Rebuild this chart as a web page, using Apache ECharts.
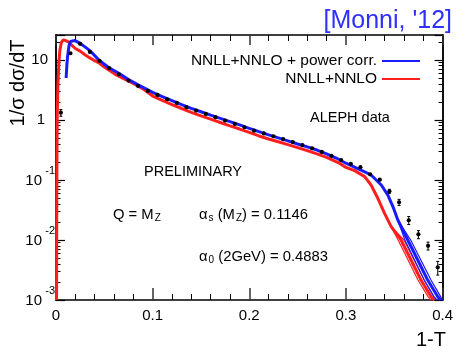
<!DOCTYPE html>
<html><head><meta charset="utf-8">
<script src="https://cdn.jsdelivr.net/npm/echarts@6/dist/echarts.min.js"></script>
<style>html,body{margin:0;padding:0;background:#fff}#c{width:456px;height:348px}</style>
</head><body><div id="c"></div>
<script>
// ---- data ----
const xTickLabels = ['0', '0.1', '0.2', '0.3', '0.4'];
const yTickExp = [-3, -2, -1, 0, 1];

const dataX = [0.005, 0.015, 0.025, 0.035, 0.045, 0.055, 0.065, 0.075, 0.085, 0.095,
  0.105, 0.115, 0.125, 0.135, 0.145, 0.155, 0.165, 0.175, 0.185, 0.195,
  0.205, 0.215, 0.225, 0.235, 0.245, 0.255, 0.265, 0.275, 0.285, 0.295,
  0.305, 0.315, 0.325, 0.335, 0.345, 0.355, 0.365, 0.375, 0.385, 0.395];
const dataY = [1.32, 12.9, 18.5, 13.6, 9.6, 7.3, 5.76, 4.53, 3.69, 3.04,
  2.61, 2.21, 1.92, 1.63, 1.43, 1.26, 1.11, 0.975, 0.858, 0.755,
  0.663, 0.595, 0.535, 0.478, 0.428, 0.38, 0.337, 0.293, 0.252, 0.215,
  0.185, 0.163, 0.124, 0.101, 0.0648, 0.0425, 0.0213, 0.0124, 0.0080, 0.0035];
const dataErr = [0.17, 0.3, 0.3, 0.2, 0.1, 0.07, 0.05, 0.04, 0.03, 0.02,
  0.02, 0.015, 0.012, 0.01, 0.008, 0.007, 0.006, 0.005, 0.004, 0.004,
  0.003, 0.003, 0.003, 0.002, 0.002, 0.002, 0.002, 0.002, 0.002, 0.002,
  0.002, 0.002, 0.002, 0.002, 0.005, 0.005, 0.0032, 0.0019, 0.0012, 0.0009];

const blueT = [0.0105, 0.0112, 0.012, 0.0134, 0.015, 0.017, 0.0195, 0.0247, 0.030, 0.035,
  0.044, 0.054, 0.065, 0.075, 0.085, 0.095, 0.100, 0.110, 0.120, 0.130,
  0.140, 0.150, 0.160, 0.170, 0.180, 0.190, 0.200, 0.210, 0.220, 0.230,
  0.240, 0.250, 0.260, 0.270, 0.280, 0.290, 0.300, 0.310, 0.320, 0.326,
  0.3366, 0.3434, 0.3486, 0.3537, 0.364, 0.3743, 0.3846, 0.3949, 0.398];
const blueV = [5.0, 8.0, 11.5, 17.0, 20.3, 21.3, 21.0, 19.0, 16.5, 14.3,
  10.1, 7.55, 6.0, 4.7, 3.83, 3.16, 2.88, 2.45, 2.1, 1.8,
  1.56, 1.37, 1.2, 1.06, 0.935, 0.825, 0.725, 0.638, 0.565, 0.503,
  0.448, 0.398, 0.355, 0.315, 0.272, 0.232, 0.19, 0.16, 0.135, 0.121,
  0.0825, 0.056, 0.036, 0.0215, 0.010, 0.00464, 0.00215, 0.00114, 0.001];

const redT = [0.0006, 0.0008, 0.0012, 0.002, 0.003, 0.004, 0.0055, 0.0075, 0.010, 0.0127,
  0.016, 0.020, 0.025, 0.030, 0.035, 0.040, 0.045, 0.050, 0.0624, 0.070,
  0.0795, 0.090, 0.100, 0.110, 0.120, 0.130, 0.140, 0.150, 0.160, 0.170,
  0.180, 0.190, 0.200, 0.210, 0.220, 0.230, 0.240, 0.250, 0.260, 0.270,
  0.280, 0.292, 0.300, 0.309, 0.3194, 0.326, 0.333, 0.340, 0.3468, 0.357,
  0.3674, 0.3777, 0.388, 0.3914];
const redV = [0.001, 0.05, 1.0, 4.0, 9.0, 14.5, 19.5, 21.5, 21.0, 20.0,
  17.8, 15.5, 14.0, 12.2, 10.8, 9.7, 8.8, 7.6, 5.62, 4.85,
  4.08, 3.3, 2.5, 2.12, 1.8, 1.55, 1.34, 1.17, 1.03, 0.905,
  0.795, 0.705, 0.62, 0.541, 0.482, 0.432, 0.387, 0.346, 0.308, 0.272,
  0.238, 0.195, 0.162, 0.143, 0.1136, 0.0825, 0.0495, 0.0278, 0.0167, 0.010,
  0.00464, 0.00215, 0.00114, 0.001];

const blueHiT = [0.3537, 0.367, 0.3775, 0.388, 0.398, 0.4];
const blueHiV = [0.0215, 0.010, 0.00464, 0.00215, 0.00114, 0.00095];
const blueLoT = [0.3537, 0.361, 0.371, 0.381, 0.391, 0.394];
const blueLoV = [0.0215, 0.010, 0.00464, 0.00215, 0.00114, 0.001];
const redHiT = [0.3468, 0.360, 0.3705, 0.381, 0.391, 0.394];
const redHiV = [0.0167, 0.010, 0.00464, 0.00215, 0.00114, 0.001];
const redLoT = [0.3468, 0.354, 0.3643, 0.3745, 0.385, 0.388];
const redLoV = [0.0167, 0.010, 0.00464, 0.00215, 0.00114, 0.001];

// ---- chart ----
const FONT = 'Liberation Sans';
const BLUE = '#1a1aff', RED = '#ff1e1e';
const zip = (xs, ys) => xs.map((x, i) => [x, ys[i]]);
const zip3 = (xs, ys, es) => xs.map((x, i) => [x, ys[i], es[i]]);

const minorY = [];
yTickExp.forEach(e => { for (let k = 2; k <= 9; k++) { const v = k * Math.pow(10, e); if (v < 26) minorY.push(v); } });

function yLabel(v) {
  const l = Math.log10(v);
  const e = Math.round(l);
  if (Math.abs(l - e) > 1e-6 || yTickExp.indexOf(e) < 0) return '';
  if (e === 0) return '{one|1}';
  if (e === 1) return '{ten|10}';
  return '{s|' + e + '}\n{b|10}';
}

const axisLineStyle = { show: true, lineStyle: { color: '#000', width: 1.5 } };
const yBase = { type: 'log', logBase: 10, min: 0.001, max: 26, splitLine: { show: false }, axisLine: axisLineStyle };
const xBase = { type: 'value', min: 0, max: 0.4, interval: 0.1, splitLine: { show: false }, minorSplitLine: { show: false }, axisLine: axisLineStyle };

const lineSeries = (name, data, color, width, z) => ({
  name, type: 'line', data, symbol: 'none', smooth: false, z,
  lineStyle: { color, width }, itemStyle: { color }, silent: true, animation: false
});

const sub = { fontSize: 10, fontFamily: FONT, fill: '#000', lineHeight: 12, verticalAlign: 'bottom', padding: [0, 0, 0, 1] };
const mainT = { fontSize: 14.8, fontFamily: FONT, fill: '#000', lineHeight: 16, verticalAlign: 'top' };

const option = {
  animation: false,
  grid: { left: 56, right: 11, top: 35, bottom: 48 },
  xAxis: [
    Object.assign({}, xBase, {
      position: 'bottom',
      axisTick: { inside: true, length: 12, lineStyle: { color: '#333', width: 1.5 } },
      minorTick: { show: true, splitNumber: 5, length: 6, lineStyle: { color: '#000', width: 1 } },
      axisLabel: { margin: 8, fontSize: 15, fontFamily: FONT, color: '#000',
        formatter: (v, i) => xTickLabels[i] !== undefined ? xTickLabels[i] : '' }
    }),
    Object.assign({}, xBase, {
      position: 'top',
      axisTick: { inside: true, length: 10, lineStyle: { color: '#333', width: 1.5 } },
      minorTick: { show: true, splitNumber: 5, length: 6, lineStyle: { color: '#000', width: 1 } },
      axisLabel: { show: false }
    })
  ],
  yAxis: [
    Object.assign({}, yBase, {
      position: 'left',
      axisTick: { inside: true, length: 9, lineStyle: { color: '#000', width: 1.2 } },
      axisLabel: {
        margin: 1, formatter: yLabel, color: '#000', fontFamily: FONT,
        rich: {
          b: { fontSize: 15, fontFamily: FONT, color: '#000', lineHeight: 16, padding: [0, 13, 8, 0] },
          s: { fontSize: 11, fontFamily: FONT, color: '#000', lineHeight: 10, padding: [0, 0, 2, 0] },
          one: { fontSize: 15, fontFamily: FONT, color: '#000', lineHeight: 16, padding: [0, 10, 0, 0] },
          ten: { fontSize: 15, fontFamily: FONT, color: '#000', lineHeight: 16, padding: [0, 7, 0, 0] }
        }
      }
    }),
    Object.assign({}, yBase, {
      position: 'left', offset: 0,
      axisTick: { inside: true, length: 4.5, customValues: minorY, lineStyle: { color: '#000', width: 1 } },
      axisLabel: { show: false }
    }),
    Object.assign({}, yBase, {
      position: 'right', offset: 0,
      axisTick: { inside: true, length: 8, lineStyle: { color: '#000', width: 1.2 } },
      axisLabel: { show: false }
    }),
    Object.assign({}, yBase, {
      position: 'right', offset: 0,
      axisTick: { inside: true, length: 4, customValues: minorY, lineStyle: { color: '#000', width: 1 } },
      axisLabel: { show: false }
    })
  ],
  legend: {
    data: ['NNLL+NNLO + power corr.', 'NNLL+NNLO'],
    orient: 'vertical', align: 'right', right: 31, top: 47,
    icon: 'rect', itemWidth: 38, itemHeight: 2, itemGap: 0,
    textStyle: { fontSize: 15.5, fontFamily: FONT, color: '#000', lineHeight: 18 },
    selectedMode: false
  },
  series: [
    lineSeries('NNLL+NNLO', zip(redT, redV), RED, 3, 2),
    lineSeries('redHi', zip(redHiT, redHiV), RED, 1.2, 2),
    lineSeries('redLo', zip(redLoT, redLoV), RED, 1.2, 2),
    lineSeries('NNLL+NNLO + power corr.', zip(blueT, blueV), BLUE, 3, 3),
    lineSeries('blueHi', zip(blueHiT, blueHiV), BLUE, 1.2, 3),
    lineSeries('blueLo', zip(blueLoT, blueLoV), BLUE, 1.2, 3),
    {
      name: 'ALEPH data', type: 'custom', z: 5, clip: true, silent: true,
      data: zip3(dataX, dataY, dataErr),
      encode: { x: 0, y: 1 },
      renderItem: (params, api) => {
        const x = api.value(0), y = api.value(1), e = api.value(2);
        const p = api.coord([x, y]);
        const hi = api.coord([x, y + e]);
        const lo = api.coord([x, Math.max(y - e, 1e-5)]);
        const children = [
          { type: 'line', shape: { x1: p[0], y1: hi[1], x2: p[0], y2: lo[1] }, style: { stroke: '#000', lineWidth: 1 } },
          { type: 'line', shape: { x1: p[0] - 1.5, y1: hi[1], x2: p[0] + 1.5, y2: hi[1] }, style: { stroke: '#000', lineWidth: 1 } },
          { type: 'line', shape: { x1: p[0] - 1.5, y1: lo[1], x2: p[0] + 1.5, y2: lo[1] }, style: { stroke: '#000', lineWidth: 1 } },
          { type: 'circle', shape: { cx: p[0], cy: p[1], r: 2.1 }, style: { fill: '#000' } }
        ];
        return { type: 'group', children };
      }
    }
  ],
  graphic: [
    { type: 'text', x: 452, y: 21, style: { text: "[Monni, '12]", fontSize: 25, fontFamily: FONT, fill: '#2f2fff', textAlign: 'right', textVerticalAlign: 'middle' } },
    { type: 'text', x: 18, y: 83, rotation: Math.PI / 2, style: { text: '1/σ dσ/dT', fontSize: 20, fontFamily: FONT, fill: '#000', textAlign: 'center', textVerticalAlign: 'middle' } },
    { type: 'text', x: 446, y: 340, style: { text: '1-T', fontSize: 20, fontFamily: FONT, fill: '#000', textAlign: 'right', textVerticalAlign: 'middle' } },
    { type: 'text', x: 310, y: 118, style: { text: 'ALEPH data', fontSize: 14.5, fontFamily: FONT, fill: '#000', textAlign: 'left', textVerticalAlign: 'middle' } },
    { type: 'text', x: 144, y: 172, style: { text: 'PRELIMINARY', fontSize: 14.5, fontFamily: FONT, fill: '#000', textAlign: 'left', textVerticalAlign: 'middle' } },
    { type: 'text', x: 113, y: 215, style: { text: '{a|Q = M}{sub|Z}', textAlign: 'left', textVerticalAlign: 'middle', rich: { a: mainT, sub } } },
    { type: 'text', x: 199, y: 215, style: { text: '{a|α}{sub|s}{a| (M}{sub|Z}{a|) = 0.1146}', textAlign: 'left', textVerticalAlign: 'middle', rich: { a: mainT, sub } } },
    { type: 'text', x: 199, y: 257, style: { text: '{a|α}{sub|0}{a| (2GeV) = 0.4883}', textAlign: 'left', textVerticalAlign: 'middle', rich: { a: mainT, sub } } }
  ]
};

const chart = echarts.init(document.getElementById('c'), null, { renderer: 'canvas' });
chart.setOption(option);
</script>
</body></html>
